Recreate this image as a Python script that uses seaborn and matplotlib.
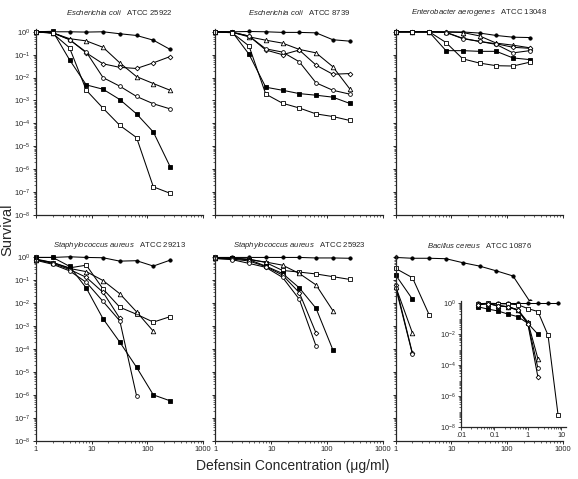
import numpy as np
import matplotlib
matplotlib.use("Agg")
import matplotlib.pyplot as plt
import matplotlib.ticker as mticker
import seaborn as sns

# defensin concentrations (ug/ml), doubling series
conc = [1, 2, 4, 8, 16, 32, 64, 128, 256]
inset_conc = [1 / 32, 1 / 16, 1 / 8, 1 / 4, 1 / 2, 1, 2, 4, 8]

titles = [
    ("Escherichia\\ coli", "ATCC 25922"),
    ("Escherichia\\ coli", "ATCC 8739"),
    ("Enterobacter\\ aerogenes", "ATCC 13048"),
    ("Staphylococcus\\ aureus", "ATCC 29213"),
    ("Staphylococcus\\ aureus", "ATCC 25923"),
    ("Bacillus\\ cereus", "ATCC 10876"),
]

# survival per series (keys name the marker used)
ec25922 = {
    "fcirc": [1.0, 1.0, 1.0, 0.97, 1.0, 0.82, 0.69, 0.43, 0.17],
    "otri": [1.0, 0.9, 0.5, 0.40, 0.21, 0.044, 0.011, 0.0055, 0.0028],
    "odiam": [1.0, 0.9, 0.46, 0.12, 0.04, 0.028, 0.025, 0.044, 0.083],
    "ocirc": [1.0, 0.9, 0.45, 0.13, 0.01, 0.0042, 0.0015, 0.00072, 0.00043],
    "fsq": [1.0, 1.05, 0.06, 0.0048, 0.0031, 0.0011, 0.00026, 4.2e-5, 1.3e-6],
    "osq": [1.0, 0.85, 0.2, 0.0028, 0.00046, 8.2e-5, 2.4e-5, 1.7e-7, 8.9e-8],
}
ec8739 = {
    "fcirc": [1.0, 1.0, 1.03, 1.0, 0.94, 0.94, 0.9, 0.45, 0.39],
    "otri": [1.0, 0.95, 0.6, 0.43, 0.32, 0.17, 0.12, 0.03, 0.0033],
    "odiam": [1.0, 0.95, 0.65, 0.16, 0.1, 0.16, 0.035, 0.014, 0.015],
    "ocirc": [1.0, 0.95, 0.65, 0.18, 0.13, 0.049, 0.0059, 0.0028, 0.0019],
    "fsq": [1.0, 0.98, 0.105, 0.0038, 0.0028, 0.002, 0.0017, 0.0014, 0.00075],
    "osq": [1.0, 0.9, 0.24, 0.0019, 0.00076, 0.00047, 0.00026, 0.0002, 0.000135],
}
ea13048 = {
    "fcirc": [1.0, 1.0, 1.0, 1.0, 0.98, 0.88, 0.69, 0.58, 0.56],
    "otri": [1.0, 1.0, 1.0, 0.97, 0.93, 0.66, 0.32, 0.26, 0.2],
    "odiam": [1.0, 1.0, 1.0, 0.95, 0.52, 0.38, 0.3, 0.21, 0.19],
    "ocirc": [1.0, 1.0, 1.0, 0.93, 0.5, 0.38, 0.28, 0.12, 0.15],
    "fsq": [1.0, 1.0, 0.97, 0.15, 0.15, 0.14, 0.14, 0.072, 0.061],
    "osq": [1.0, 1.0, 1.0, 0.34, 0.066, 0.043, 0.033, 0.032, 0.047],
}
sa29213 = {
    "fcirc": [1.0, 1.0, 1.07, 1.0, 0.97, 0.69, 0.72, 0.42, 0.76],
    "osq": [0.85, 0.6, 0.35, 0.46, 0.042, 0.0067, 0.0033, 0.0015, 0.0026],
    "otri": [0.8, 0.6, 0.33, 0.24, 0.098, 0.026, 0.0042, 0.0006],
    "odiam": [0.8, 0.55, 0.3, 0.135, 0.03, 0.0022],
    "ocirc": [0.75, 0.5, 0.26, 0.082, 0.012, 0.0017, 9e-7],
    "fsq": [1.0, 1.0, 0.41, 0.046, 0.0021, 0.0002, 1.6e-5, 1.0e-6, 5.5e-7],
}
sa25923 = {
    "fcirc": [1.0, 1.0, 1.0, 1.0, 1.0, 1.0, 0.95, 0.95, 0.92],
    "osq": [0.95, 0.9, 0.85, 0.6, 0.27, 0.23, 0.19, 0.145, 0.11],
    "otri": [0.95, 0.9, 0.8, 0.63, 0.46, 0.2, 0.063, 0.0048],
    "fsq": [1.0, 0.95, 0.8, 0.42, 0.2, 0.047, 0.006, 9.4e-5],
    "odiam": [0.9, 0.85, 0.7, 0.4, 0.17, 0.029, 0.0005],
    "ocirc": [0.9, 0.8, 0.55, 0.37, 0.135, 0.015, 0.000135],
}
bc10876 = {
    "fcirc": [1.0, 0.92, 0.92, 0.88, 0.59, 0.42, 0.26, 0.155, 0.012],
    "osq": [0.33, 0.13, 0.0031],
    "fsq": [0.17, 0.015],
    "otri": [0.053, 0.0005],
    "odiam": [0.06, 6.5e-5],
    "ocirc": [0.048, 6e-5],
}
bc10876_inset = {
    "fcirc": [1.0, 1.0, 1.0, 1.0, 1.0, 1.0, 1.0, 1.0, 1.0],
    "osq": [0.9, 1.0, 0.95, 0.9, 0.8, 0.45, 0.29, 0.0085, 5.7e-8],
    "fsq": [0.6, 0.42, 0.32, 0.2, 0.135, 0.05, 0.0097],
    "otri": [0.8, 0.95, 0.7, 0.6, 0.38, 0.06, 2.5e-4],
    "ocirc": [0.8, 0.95, 0.7, 0.6, 0.37, 0.05, 6e-5],
    "odiam": [0.8, 0.95, 0.7, 0.58, 0.35, 0.045, 1.6e-5],
}

panels = [ec25922, ec8739, ea13048, sa29213, sa25923, bc10876]

# marker, face colour, size
MARKERS = {
    "fcirc": ("o", "black", 2.4),
    "otri": ("^", "white", 3.3),
    "odiam": ("D", "white", 2.4),
    "ocirc": ("o", "white", 2.7),
    "fsq": ("s", "black", 3.0),
    "osq": ("s", "white", 3.3),
}

sns.set_style("ticks")
plt.rcParams["font.family"] = ["Liberation Sans", "DejaVu Sans"]
plt.rcParams["mathtext.fontset"] = "custom"
plt.rcParams["mathtext.rm"] = "Liberation Sans"
plt.rcParams["mathtext.it"] = "Liberation Sans:italic"
plt.rcParams["axes.linewidth"] = 0.9


def draw_series(ax, xs, data):
    for key, vals in data.items():
        m, face, size = MARKERS[key]
        sns.lineplot(x=xs[:len(vals)], y=vals, ax=ax, color="black", linewidth=0.75,
                     marker=m, markersize=size, markerfacecolor=face,
                     markeredgecolor="black", markeredgewidth=0.6, clip_on=False)


def setup_axes(ax, show_y, show_x):
    ax.set_xscale("log")
    ax.set_yscale("log")
    ax.set_xlim(1, 1000)
    ax.set_ylim(1e-8, 1.3)
    ax.yaxis.set_major_locator(mticker.LogLocator(base=10, numticks=20))
    ax.yaxis.set_minor_locator(mticker.LogLocator(base=10, subs=np.arange(2, 10), numticks=100))
    ax.xaxis.set_major_locator(mticker.FixedLocator([1, 10, 100, 1000]))
    ax.xaxis.set_minor_locator(mticker.LogLocator(base=10, subs=np.arange(2, 10), numticks=100))
    ax.yaxis.set_minor_formatter(mticker.NullFormatter())
    ax.xaxis.set_minor_formatter(mticker.NullFormatter())
    if show_y:
        ax.yaxis.set_major_formatter(mticker.FuncFormatter(
            lambda v, _: "$10^{%d}$" % int(round(np.log10(v)))))
    else:
        ax.yaxis.set_major_formatter(mticker.NullFormatter())
    if show_x:
        ax.xaxis.set_major_formatter(mticker.FuncFormatter(lambda v, _: "%g" % v))
    else:
        ax.xaxis.set_major_formatter(mticker.NullFormatter())
    ax.tick_params(which="major", length=2.5, width=0.7, pad=1.5, labelsize=5.5)
    ax.tick_params(which="minor", length=1.3, width=0.5)
    sns.despine(ax=ax)


fig = plt.figure(figsize=(5.78, 4.79), dpi=100)

lefts = [0.0623, 0.3728, 0.6846]
bottoms = [0.5511, 0.080]
width, height = 0.289, 0.388
title_y = [0.974, 0.4885]

for i, data in enumerate(panels):
    row, col = divmod(i, 3)
    ax = fig.add_axes([lefts[col], bottoms[row], width, height])
    setup_axes(ax, col == 0, row == 1)
    draw_series(ax, conc, data)
    species, atcc = titles[i]
    fig.text(lefts[col] + width / 2, title_y[row],
             r"$\it{%s}$   %s" % (species, atcc),
             ha="center", va="center", fontsize=5.6)

# inset for B. cereus
axi = fig.add_axes([0.7976, 0.1092, 0.182, 0.2614])
axi.set_facecolor("white")
axi.set_xscale("log")
axi.set_yscale("log")
axi.set_xlim(0.01, 14)
axi.set_ylim(1e-8, 1.3)
axi.yaxis.set_major_locator(mticker.FixedLocator([1e-8, 1e-6, 1e-4, 1e-2, 1]))
axi.yaxis.set_minor_locator(mticker.LogLocator(base=10, subs=np.arange(2, 10), numticks=100))
axi.xaxis.set_major_locator(mticker.FixedLocator([0.01, 0.1, 1, 10]))
axi.xaxis.set_minor_locator(mticker.LogLocator(base=10, subs=np.arange(2, 10), numticks=100))
axi.yaxis.set_minor_formatter(mticker.NullFormatter())
axi.xaxis.set_minor_formatter(mticker.NullFormatter())
axi.yaxis.set_major_formatter(mticker.FuncFormatter(
    lambda v, _: "$10^{%d}$" % int(round(np.log10(v)))))
axi.xaxis.set_major_formatter(mticker.FixedFormatter([".01", "0.1", "1", "10"]))
axi.tick_params(which="major", length=2.2, width=0.6, pad=1.5, labelsize=5.2)
axi.tick_params(which="minor", length=1.2, width=0.5)
sns.despine(ax=axi)
draw_series(axi, inset_conc, bc10876_inset)

fig.text(0.012, 0.52, "Survival", rotation=90, ha="center", va="center", fontsize=10.5)
fig.text(0.507, 0.027, "Defensin Concentration (\u03bcg/ml)", ha="center", va="center",
         fontsize=10)

fig.savefig("out.png", dpi=100)
